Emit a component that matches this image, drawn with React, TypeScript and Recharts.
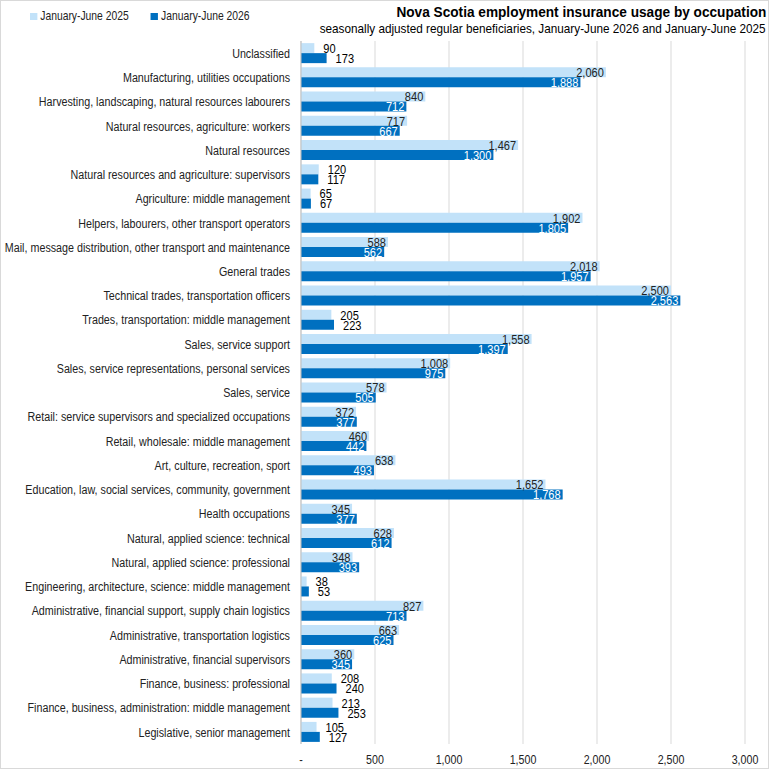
import React from "react";
import { BarChart, Bar, XAxis, YAxis, CartesianGrid, LabelList } from "recharts";

const categories = [
  "Unclassified",
  "Manufacturing, utilities occupations",
  "Harvesting, landscaping, natural resources labourers",
  "Natural resources, agriculture: workers",
  "Natural resources",
  "Natural resources and agriculture: supervisors",
  "Agriculture: middle management",
  "Helpers, labourers, other transport operators",
  "Mail, message distribution, other transport and maintenance",
  "General trades",
  "Technical trades, transportation officers",
  "Trades, transportation: middle management",
  "Sales, service support",
  "Sales, service representations, personal services",
  "Sales, service",
  "Retail: service supervisors and specialized occupations",
  "Retail, wholesale: middle management",
  "Art, culture, recreation, sport ",
  "Education, law, social services, community, government",
  "Health occupations",
  "Natural, applied science: technical",
  "Natural, applied science: professional",
  "Engineering, architecture, science: middle management",
  "Administrative, financial support, supply chain logistics",
  "Administrative, transportation logistics",
  "Administrative, financial supervisors",
  "Finance, business: professional",
  "Finance, business, administration: middle management",
  "Legislative, senior management",
];

const values2025 = [90, 2060, 840, 717, 1467, 120, 65, 1902, 588, 2018, 2500, 205, 1558, 1008, 578, 372, 460, 638, 1652, 345, 628, 348, 38, 827, 663, 360, 208, 213, 105];
const values2026 = [173, 1888, 712, 667, 1300, 117, 67, 1805, 562, 1957, 2563, 223, 1397, 975, 505, 377, 442, 493, 1768, 377, 612, 393, 53, 713, 625, 345, 240, 253, 127];

const xTicks = [0, 500, 1000, 1500, 2000, 2500, 3000];

const series2025 = "January-June 2025";
const series2026 = "January-June 2026";

const data = categories.map((c, i) => ({ name: c, v2025: values2025[i], v2026: values2026[i] }));

const LIGHT = "#C2E2F9";
const DARK = "#0070C0";
const FONT = "'Liberation Sans', Arial, sans-serif";
const SX = 0.82;

const fmt = (v: number) => (v === 0 ? "-" : v.toLocaleString("en-US"));

const NarrowText = ({ x, y, anchor, size, fill, children, dy = "0.36em" }: any) => (
  <text
    transform={`translate(${x},${y}) scale(${SX},1)`}
    x={0}
    y={0}
    dy={dy}
    textAnchor={anchor}
    fill={fill}
    fontSize={size}
    fontFamily={FONT}
  >
    {children}
  </text>
);

const makeLabel = (insideColor: string) => (props: any) => {
  const { x, y, width, height, value } = props;
  const v = Number(value);
  const cy = Number(y) + Number(height) / 2;
  const inside = v >= 300;
  const tx = inside ? Number(x) + Number(width) - 2 : Number(x) + Number(width) + 9;
  return (
    <NarrowText x={tx} y={cy} anchor={inside ? "end" : "start"} fill={inside ? insideColor : "#000"} size={13.5}>
      {fmt(v)}
    </NarrowText>
  );
};

const CategoryTick = (props: any) => {
  const { x, y, payload } = props;
  return (
    <NarrowText x={Number(x)} y={y} anchor="end" fill="#222" size={13.1}>
      {payload.value}
    </NarrowText>
  );
};

const ValueTick = (props: any) => {
  const { x, y, payload } = props;
  return (
    <NarrowText x={x} y={y} anchor="middle" fill="#222" size={13} dy="0.71em">
      {fmt(Number(payload.value))}
    </NarrowText>
  );
};

export default function App() {
  return (
    <div style={{ position: "relative", width: 769, height: 769, boxSizing: "border-box", fontFamily: FONT, background: "#fff" }}>
      <style>{`body{margin:0}`}</style>
      <div style={{ position: "absolute", left: 0, top: 0, width: 769, height: 769, boxSizing: "border-box", border: "1px solid #D9D9D9", pointerEvents: "none", zIndex: 2 }} />
      <div style={{ position: "absolute", left: 30, top: 9, display: "flex", alignItems: "center", fontSize: 12.6, color: "#222", transform: `scaleX(${SX})`, transformOrigin: "left center", whiteSpace: "nowrap" }}>
        <span style={{ display: "inline-block", width: 8.5, height: 7, background: LIGHT, marginRight: 4 }} />
        <span>{series2025}</span>
        <span style={{ display: "inline-block", width: 8.5, height: 7, background: DARK, marginLeft: 27, marginRight: 4 }} />
        <span>{series2026}</span>
      </div>
      <div style={{ position: "absolute", right: 3, top: 3, fontSize: 15.5, fontWeight: "bold", color: "#000", whiteSpace: "nowrap", transform: "scaleX(0.88)", transformOrigin: "right center" }}>
        Nova Scotia employment insurance usage by occupation
      </div>
      <div style={{ position: "absolute", right: 3, top: 21, fontSize: 13.5, color: "#000", whiteSpace: "nowrap", transform: "scaleX(0.87)", transformOrigin: "right center" }}>
        seasonally adjusted regular beneficiaries, January-June 2026 and January-June 2025
      </div>
      <BarChart
        width={769}
        height={769}
        data={data}
        layout="vertical"
        margin={{ top: 41, right: 24, bottom: 0, left: 0 }}
        barCategoryGap="8.8%"
        barGap={0}
      >
        <CartesianGrid horizontal={false} stroke="#D9D9D9" />
        <XAxis
          type="number"
          domain={[0, 3000]}
          ticks={xTicks}
          tickFormatter={fmt}
          axisLine={false}
          tickLine={false}
          height={25}
          tickMargin={5}
          tick={<ValueTick />}
        />
        <YAxis
          type="category"
          dataKey="name"
          width={301}
          interval={0}
          axisLine={{ stroke: "#BFBFBF" }}
          tickLine={false}
          tickMargin={5}
          tick={<CategoryTick />}
        />
        <Bar dataKey="v2025" name={series2025} fill={LIGHT} isAnimationActive={false}>
          <LabelList dataKey="v2025" content={makeLabel("#222")} />
        </Bar>
        <Bar dataKey="v2026" name={series2026} fill={DARK} isAnimationActive={false}>
          <LabelList dataKey="v2026" content={makeLabel("#fff")} />
        </Bar>
      </BarChart>
    </div>
  );
}
